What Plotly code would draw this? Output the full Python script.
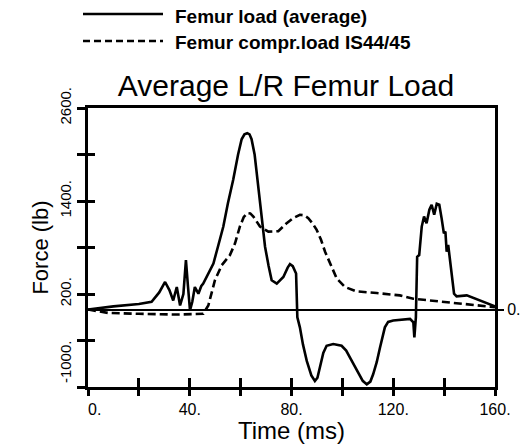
import plotly.graph_objects as go

# Femur load (average) - solid
time_avg = [0, 10, 20, 25, 28, 30.3, 32, 33.5, 34.9, 36.2, 37.5, 38.5, 39.3, 40.1, 41, 42, 43.4, 44.5, 45.3,
            47, 49.3, 51, 53.2, 55, 57.1, 59, 60.4, 61.5, 62.6, 63.5, 64.3, 65.5, 67, 68.3, 69.6, 71, 72.2, 74.2,
            76.8, 78.5, 79.4, 80.5, 81.8, 82.3, 83.3, 84.5, 86, 87.8, 89.2, 90.2, 91.2, 92.5, 93.8, 96.4, 99.7,
            101.5, 103, 104.8, 106.3, 108, 109.6, 111, 112.1, 113.5, 114.8, 116, 116.7, 118, 120, 126.6, 127.9,
            128.3, 128.9, 129.4, 130.2, 131.2, 132.1, 133.1, 134.2, 135.1, 136.1, 137.1, 138.1, 139, 139.9,
            140.5, 141, 141.6, 142.6, 143.9, 144.9, 148.9, 160]
load_avg = [0, 40, 70, 100, 220, 355, 250, 117, 290, 52, 200, 637, 300, -13, 100, 290, 204, 300, 334,
            440, 594, 800, 1070, 1370, 1677, 2000, 2197, 2260, 2275, 2260, 2197, 2000, 1590, 1180, 810, 560, 377,
            334, 420, 540, 585, 560, 464, -100, -230, -450, -663, -850, -923, -880, -750, -560, -468, -446, -468,
            -530, -620, -730, -836, -920, -966, -930, -836, -680, -490, -330, -230, -160, -143, -121, -165,
            -360, -100, 680, 702, 1070, 1200, 1114, 1287, 1352, 1222, 1365, 1352, 1179, 984,
            1005, 745, 832, 550, 204, 169, 182, 40]

# Femur compr.load IS44/45 - dashed
time_is = [0, 8, 20, 35, 45.3, 47.3, 49.9, 52.6, 55.8, 57.8, 59.7, 61.2, 62.6, 63.8, 65, 67.6, 70.9, 74.8,
           78.1, 80.5, 83.3, 85, 86.6, 88.3, 89.9, 91.6, 93.2, 95.8, 97.8, 101, 105.6, 113.5, 122.6, 127.9,
           141, 154.1, 160]
load_is = [0, -45, -55, -65, -56, 52, 377, 572, 702, 854, 1070, 1190, 1244, 1240, 1200, 1070, 1005, 1010,
           1114, 1175, 1222, 1215, 1179, 1110, 1027, 900, 745, 550, 399, 290, 234, 212, 182, 139,
           95, 52, 30]

name_avg = "Femur load (average)"
name_is = "Femur compr.load IS44/45"

x_tickvals = [0, 40, 80, 120, 160]
x_ticktext = ["\u00a0\u00a0\u00a00.", "40.", "80.", "120.", "160."]
y_tickvals = [-1000, 200, 1400, 2600]
y_ticktext = ["\u00a0" * 11 + "-1000.", "200.", "1400.", "2600."]

FONT = "Liberation Sans, Arial, Helvetica, sans-serif"
W, H = 530, 444
ML, MR, MT, MB = 88, 35, 108, 57
PW, PH = W - ML - MR, H - MT - MB


def px(x):
    # page x -> paper x
    return (x - ML) / PW


def py(y):
    # page y -> paper y
    return (H - MB - y) / PH


fig = go.Figure()
fig.add_trace(go.Scatter(x=time_avg, y=load_avg, mode="lines", name=name_avg,
                         line=dict(color="black", width=2.6)))
fig.add_trace(go.Scatter(x=time_is, y=load_is, mode="lines", name=name_is,
                         line=dict(color="black", width=2.6, dash="8px,4px")))
# empty traces so the extra tick axes get drawn
fig.add_trace(go.Scatter(x=[None], y=[None], xaxis="x2", yaxis="y2", showlegend=False, hoverinfo="skip"))
fig.add_trace(go.Scatter(x=[None], y=[None], xaxis="x", yaxis="y3", showlegend=False, hoverinfo="skip"))

# hand drawn legend like the original (long line samples)
for yy, ty, dash, label in [(14, 16, "solid", name_avg), (41, 42, "7px,4px", name_is)]:
    fig.add_shape(type="line", xref="paper", yref="paper", x0=px(83), x1=px(163), y0=py(yy), y1=py(yy),
                  line=dict(color="black", width=2.6, dash=dash))
    fig.add_annotation(xref="paper", yref="paper", x=px(173), y=py(ty), xanchor="left", yanchor="middle",
                       text="<b>%s</b>" % label, showarrow=False, font=dict(size=19, color="black", family=FONT))

ax_common = dict(showgrid=False, color="black", automargin=False)
fig.update_layout(
    width=W, height=H, margin=dict(l=ML, r=MR, t=MT, b=MB, autoexpand=False),
    plot_bgcolor="white", paper_bgcolor="white", showlegend=False,
    font=dict(family=FONT, color="black"),
    title=dict(text="Average L/R Femur Load", x=286 / W, xanchor="center", xref="container",
               y=1 - 85 / H, yanchor="middle", yref="container", automargin=False,
               font=dict(size=30, color="black")),
    xaxis=dict(range=[0, 160], showline=True, linewidth=3, linecolor="black", mirror=True,
               tickmode="array", tickvals=x_tickvals, ticktext=x_ticktext,
               ticks="outside", ticklen=6, tickwidth=2.5, tickcolor="black", tickfont=dict(size=16),
               minor=dict(tickmode="linear", tick0=0, dtick=20, ticks="outside", ticklen=6, tickwidth=2.5,
                          tickcolor="black"),
               zeroline=False,
               title=dict(text="Time (ms)", font=dict(size=24), standoff=0), **ax_common),
    xaxis2=dict(overlaying="x", anchor="y", range=[0, 160], tick0=0, dtick=20, ticks="inside", ticklen=9,
                tickwidth=2.5, tickcolor="black", showticklabels=False, showline=False, zeroline=False,
                **ax_common),
    yaxis=dict(range=[-1000, 2600], showline=True, linewidth=3, linecolor="black", mirror=True,
               tickmode="array", tickvals=y_tickvals, ticktext=y_ticktext, tickangle=-90,
               ticks="outside", ticklen=8, tickwidth=2.5, tickcolor="black", tickfont=dict(size=15),
               minor=dict(tickmode="linear", tick0=-1000, dtick=600, ticks="outside", ticklen=8, tickwidth=2.5,
                          tickcolor="black"),
               zeroline=True, zerolinewidth=2, zerolinecolor="black",
               title=dict(text="Force (lb)", font=dict(size=22), standoff=3), **ax_common),
    yaxis2=dict(overlaying="y", anchor="x2", side="left", range=[-1000, 2600], tick0=-1000, dtick=600,
                ticks="inside", ticklen=7, tickwidth=2.5, tickcolor="black", showticklabels=False,
                showline=False, zeroline=False, **ax_common),
    yaxis3=dict(overlaying="y", anchor="x", side="right", range=[-1000, 2600], tickmode="array",
                tickvals=[0], ticktext=["0."], ticks="outside", ticklen=8, tickwidth=2, tickcolor="black",
                tickfont=dict(size=16), showline=False, zeroline=False, **ax_common),
)

# the page adds an 8px body margin by default; drop it so the figure fills the window
fig.write_html("out.html", config={"displayModeBar": False},
               post_script="document.body.style.margin='0px';")
